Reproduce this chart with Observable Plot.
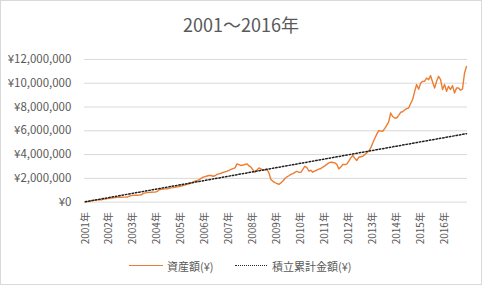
<!DOCTYPE html>
<html>
<head>
<meta charset="utf-8">
<script src="https://cdn.jsdelivr.net/npm/d3@7"></script>
<script src="https://cdn.jsdelivr.net/npm/@observablehq/plot@0.6"></script>
<style>
  html, body { margin: 0; padding: 0; background: #fff; }
  #chart {
    position: relative; width: 480px; height: 283px;
    border: 1px solid #d9d9d9; background: #fff; overflow: hidden;
    font-family: "Noto Sans CJK JP", "Noto Sans", sans-serif; color: #595959;
  }
  #title {
    position: absolute; left: 0; width: 480px; top: 11px;
    text-align: center; font-size: 18px; line-height: 24px;
  }
  #plot { position: absolute; left: -1px; top: 39px; }
  .legend { position: absolute; top: 257px; font-size: 11px; line-height: 16px; }
  .swatch { position: absolute; top: 264px; height: 0; width: 34px; }
</style>
</head>
<body>
<div id="chart">
  <div id="title">2001～2016年</div>
  <div id="plot"></div>
  <div class="swatch" style="left:128px;border-top:1.5px solid #ED7D31;"></div>
  <div class="legend" style="left:166px;">資産額(¥)</div>
  <div class="swatch" style="left:234px;border-top:1.5px dotted #262626;width:32px;"></div>
  <div class="legend" style="left:271px;">積立累計金額(¥)</div>
</div>
<script>
// Year labels on the category axis (one label every 12 months).
const yearLabels = ["2001年","2002年","2003年","2004年","2005年","2006年","2007年","2008年",
  "2009年","2010年","2011年","2012年","2013年","2014年","2015年","2016年"];

// Y axis tick values (yen).
const yTicks = [0, 2000000, 4000000, 6000000, 8000000, 10000000, 12000000];

// Monthly asset value, Jan 2001 – Dec 2016, in units of 10,000 yen.
const assetMan = [
  3, 6, 8, 11, 14, 17, 19, 20, 19, 23, 27, 30,
  32, 34, 36, 38, 40, 41, 41, 42, 42, 43, 50, 55,
  57, 58, 58, 59, 62, 72, 78, 80, 82, 83, 84, 84,
  90, 104, 107, 110, 112, 113, 116, 120, 122, 125, 128, 132,
  136, 140, 145, 150, 154, 160, 168, 176, 182, 190, 200, 210,
  215, 220, 224, 224, 218, 222, 233, 238, 243, 250, 255, 260,
  268, 275, 282, 288, 322, 315, 308, 312, 317, 322, 305, 294,
  270, 252, 270, 288, 280, 269, 272, 275, 245, 191, 175, 165,
  157, 150, 162, 178, 199, 212, 222, 233, 240, 250, 260, 250,
  250, 275, 302, 290, 262, 268, 252, 262, 270, 277, 283, 295,
  305, 318, 330, 336, 333, 330, 318, 280, 295, 317, 317, 320,
  345, 372, 392, 370, 350, 378, 382, 386, 400, 414, 430, 456,
  498, 535, 570, 602, 598, 596, 619, 645, 675, 750, 720, 708,
  708, 730, 756, 760, 775, 787, 792, 830, 863, 930, 989, 950,
  1000, 1016, 1016, 1044, 1030, 1064, 1010, 960, 1016, 1058, 1030, 947,
  989, 932, 974, 947, 980, 918, 960, 960, 941, 952, 1086, 1142
];

// Cumulative amount paid in, same months, in units of 10,000 yen.
const contribMan = [
  3, 6, 9, 12, 15, 18, 21, 24, 27, 30, 33, 36,
  39, 42, 45, 48, 51, 54, 57, 60, 63, 66, 69, 72,
  75, 78, 81, 84, 87, 90, 93, 96, 99, 102, 105, 108,
  111, 114, 117, 120, 123, 126, 129, 132, 135, 138, 141, 144,
  147, 150, 153, 156, 159, 162, 165, 168, 171, 174, 177, 180,
  183, 186, 189, 192, 195, 198, 201, 204, 207, 210, 213, 216,
  219, 222, 225, 228, 231, 234, 237, 240, 243, 246, 249, 252,
  255, 258, 261, 264, 267, 270, 273, 276, 279, 282, 285, 288,
  291, 294, 297, 300, 303, 306, 309, 312, 315, 318, 321, 324,
  327, 330, 333, 336, 339, 342, 345, 348, 351, 354, 357, 360,
  363, 366, 369, 372, 375, 378, 381, 384, 387, 390, 393, 396,
  399, 402, 405, 408, 411, 414, 417, 420, 423, 426, 429, 432,
  435, 438, 441, 444, 447, 450, 453, 456, 459, 462, 465, 468,
  471, 474, 477, 480, 483, 486, 489, 492, 495, 498, 501, 504,
  507, 510, 513, 516, 519, 522, 525, 528, 531, 534, 537, 540,
  543, 546, 549, 552, 555, 558, 561, 564, 567, 570, 573, 576
];

const rows = assetMan.map((v, i) => ({i, asset: v * 10000, contrib: contribMan[i] * 10000}));
const yen = d3.format(",");

const chart = Plot.plot({
  width: 482,
  height: 206,
  marginLeft: 84,
  marginRight: 14,
  marginTop: 19,
  marginBottom: 44,
  style: {color: "#595959", fontFamily: "'Noto Sans CJK JP', 'Noto Sans', sans-serif", background: "transparent"},
  x: {type: "linear", domain: [-0.5, 191.5]},
  y: {domain: [0, 12000000]},
  marks: [
    Plot.gridY(yTicks, {stroke: "#d9d9d9", strokeOpacity: 1, strokeWidth: 1}),
    Plot.axisY(yTicks, {tickSize: 0, tickPadding: 13, fontSize: 11.5, label: null,
      tickFormat: d => "¥" + yen(d)}),
    Plot.axisX(yearLabels.map((_, k) => k * 12), {tickSize: 0, tickPadding: 10, tickRotate: -90,
      fontSize: 10, label: null, tickFormat: d => yearLabels[d / 12]}),
    Plot.line(rows, {x: "i", y: "asset", stroke: "#ED7D31", strokeWidth: 1.4}),
    Plot.line(rows, {x: "i", y: "contrib", stroke: "#1f1f1f", strokeWidth: 1.5, strokeDasharray: "1.5,1.9"})
  ]
});
document.getElementById("plot").appendChild(chart);
</script>
</body>
</html>
